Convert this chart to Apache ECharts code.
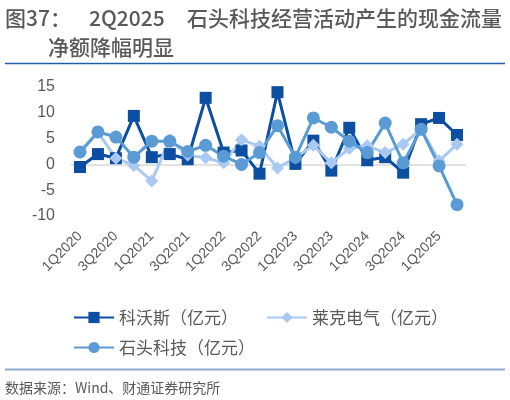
<!DOCTYPE html>
<html><head><meta charset="utf-8">
<script src="https://cdn.jsdelivr.net/npm/echarts@6/dist/echarts.min.js"></script>
<style>html,body{margin:0;padding:0;background:#fff;}#c{width:510px;height:400px;}</style>
</head><body><div id="c"></div>
<script>
var categories = ['1Q2020','2Q2020','3Q2020','4Q2020','1Q2021','2Q2021','3Q2021','4Q2021','1Q2022','2Q2022','3Q2022','4Q2022','1Q2023','2Q2023','3Q2023','4Q2023','1Q2024','2Q2024','3Q2024','4Q2024','1Q2025','2Q2025'];
var ecovacs = [-0.5, 2.0, 1.2, 9.4, 1.4, 2.0, 1.0, 12.9, 2.3, 2.7, -1.8, 14.0, 0.1, 4.6, -1.2, 7.1, 0.8, 1.4, -1.6, 7.8, 9.0, 5.7];
var kingclean = [2.3, 6.2, 1.2, -0.2, -3.2, 4.8, 1.8, 1.3, 0.3, 4.8, 3.5, -0.7, 1.3, 3.7, 0.3, 3.1, 3.6, 2.3, 3.9, 6.8, 0.7, 3.9];
var roborock = [2.4, 6.3, 5.3, 1.4, 4.5, 4.5, 2.5, 3.7, 1.6, 0.0, 2.3, 7.5, 1.4, 9.0, 7.2, 4.5, 2.3, 8.0, 0.3, 6.8, -0.3, -7.8];
var seriesNames = ['科沃斯（亿元）', '莱克电气（亿元）', '石头科技（亿元）'];
var yTicks = {min: -10, max: 15, interval: 5};

var txt = '#595959';
var cjk = '"Noto Sans CJK SC", "Noto Sans", sans-serif';
var chart = echarts.init(document.getElementById('c'), null, {renderer: 'canvas'});
chart.setOption({
  animation: false,
  backgroundColor: '#fff',
  grid: {left: 71, right: 44, top: 87, bottom: 184, containLabel: false},
  xAxis: {
    type: 'category', data: categories, boundaryGap: true,
    axisLine: {show: false}, axisTick: {show: false}, splitLine: {show: false},
    axisLabel: {interval: 1, rotate: 45, margin: 18, color: txt, fontSize: 14, fontFamily: '"Liberation Sans", Arial, sans-serif'}
  },
  yAxis: {
    type: 'value', min: yTicks.min, max: yTicks.max, interval: yTicks.interval,
    axisLine: {show: false}, axisTick: {show: false}, splitLine: {show: false},
    axisLabel: {margin: 16, color: txt, fontSize: 16, fontFamily: '"Liberation Sans", Arial, sans-serif'}
  },
  legend: [
    {data: [seriesNames[0], seriesNames[1]], left: 68, top: 304, itemWidth: 40, itemHeight: 14, itemGap: 28,
     textStyle: {color: txt, fontSize: 17, fontFamily: cjk}},
    {data: [seriesNames[2]], left: 68, top: 334, itemWidth: 40, itemHeight: 14,
     textStyle: {color: txt, fontSize: 17, fontFamily: cjk}}
  ],
  series: [
    {name: seriesNames[0], type: 'line', data: ecovacs, symbol: 'rect', symbolSize: 12, showAllSymbol: true,
     lineStyle: {width: 3, color: '#0B4EA2'}, itemStyle: {color: '#0B4EA2'},
     markLine: {silent: true, symbol: 'none', label: {show: false}, z: 1,
       lineStyle: {color: '#D9D9D9', width: 1.5, type: 'solid'}, data: [{yAxis: 0}]}},
    {name: seriesNames[1], type: 'line', data: kingclean, symbol: 'diamond', symbolSize: 13, showAllSymbol: true,
     lineStyle: {width: 3, color: '#A9C9F2'}, itemStyle: {color: '#A9C9F2'}},
    {name: seriesNames[2], type: 'line', data: roborock, symbol: 'circle', symbolSize: 13, showAllSymbol: true,
     lineStyle: {width: 3, color: '#5B9BD5'}, itemStyle: {color: '#5B9BD5'}}
  ],
  graphic: [
    {type: 'text', style: {text: '图37：', x: 5, y: 18, verticalAlign: 'middle', fill: txt, font: '500 21px ' + cjk}},
    {type: 'text', style: {text: '2Q2025', x: 89, y: 18, verticalAlign: 'middle', fill: txt, font: '500 21px ' + cjk}},
    {type: 'text', style: {text: '石头科技经营活动产生的现金流量', x: 187, y: 18, verticalAlign: 'middle', fill: txt, font: '500 21px ' + cjk}},
    {type: 'text', style: {text: '净额降幅明显', x: 48, y: 47.5, verticalAlign: 'middle', fill: txt, font: '500 21px ' + cjk}},
    {type: 'line', shape: {x1: 5, y1: 63.5, x2: 505, y2: 63.5}, style: {stroke: '#1F5FA8', lineWidth: 1.5}},
    {type: 'line', shape: {x1: 5, y1: 369.5, x2: 505, y2: 369.5}, style: {stroke: '#8DAAD0', lineWidth: 2}},
    {type: 'text', style: {text: '数据来源：Wind、财通证券研究所', x: 5, y: 388, verticalAlign: 'middle', fill: txt, font: '14px ' + cjk}}
  ]
});
</script></body></html>
